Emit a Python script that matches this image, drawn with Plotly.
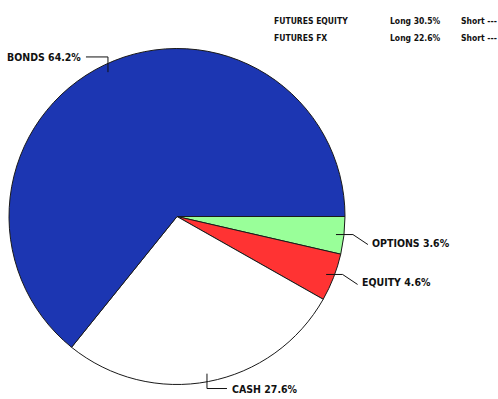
import math
import plotly.graph_objects as go

# Portfolio allocation (percent of total)
labels = ["OPTIONS", "EQUITY", "CASH", "BONDS"]
values = [3.6, 4.6, 27.6, 64.2]
colors = ["#99ff99", "#ff3333", "#ffffff", "#1c36b2"]
# how each callout line leaves its slice
leader_style = ["right", "right", "down", "up"]

# Futures exposure summary
futures_names = ["FUTURES EQUITY", "FUTURES FX"]
futures_long = [30.5, 22.6]
futures_short = ["---", "---"]

W, H = 498, 399
CX, CY, R = 177, 216.5, 168
FONT = "DejaVu Sans Condensed, Roboto, sans-serif"


def px(x):
    return x / W


def py(y):
    return 1 - y / H


fig = go.Figure(
    go.Pie(
        labels=labels,
        values=values,
        sort=False,
        direction="clockwise",
        rotation=90,
        marker=dict(colors=colors, line=dict(color="#1a1a1a", width=1)),
        textinfo="none",
        hoverinfo="label+percent",
        showlegend=False,
        domain=dict(x=[px(CX - R), px(CX + R)], y=[py(CY + R), py(CY - R)]),
    )
)

shapes = []
annotations = []
total = sum(values)
cum = 0.0
for lab, val, style in zip(labels, values, leader_style):
    mid = (cum + val / 2) / total
    cum += val
    th = math.radians(mid * 360)
    c, s = math.cos(th), math.sin(th)
    ex, ey = CX + R * c, CY + R * s
    sx, sy = CX + (R - 8) * c, CY + (R - 8) * s
    text = f"{lab} {val:.1f}%"
    if style == "right":
        p1 = (ex + 9, sy)
        p2 = (p1[0] + 15, p1[1] + 10)
        tx, ty, anchor = p2[0] + 2, p2[1] - 2, "left"
    elif style == "down":
        p1 = (sx, ey + 7)
        p2 = (p1[0] + 20, p1[1])
        tx, ty, anchor = p2[0] + 3, p2[1], "left"
    else:
        p1 = (sx, ey - 8)
        p2 = (p1[0] - 22, p1[1])
        tx, ty, anchor = p2[0] - 3, p2[1], "right"
    path = f"M {px(sx)},{py(sy)} L {px(p1[0])},{py(p1[1])} L {px(p2[0])},{py(p2[1])}"
    shapes.append(dict(type="path", xref="paper", yref="paper", path=path,
                       line=dict(color="#111111", width=1)))
    annotations.append(dict(x=px(tx), y=py(ty), xref="paper", yref="paper",
                            text=text, showarrow=False, xanchor=anchor, yanchor="middle",
                            font=dict(family=FONT, size=10.5, color="#111111", weight="bold")))

# futures table in the top-right corner
row_y = [21, 38]
for name, lng, sht, y in zip(futures_names, futures_long, futures_short, row_y):
    for x, t in [(272, name), (388, f"Long {lng:.1f}%"), (459, f"Short {sht}")]:
        annotations.append(dict(x=px(x), y=py(y), xref="paper", yref="paper",
                                text=t, showarrow=False, xanchor="left", yanchor="middle",
                                font=dict(family=FONT, size=8.5, color="#111111", weight="bold")))

fig.update_layout(
    width=W, height=H,
    margin=dict(l=0, r=0, t=0, b=0),
    paper_bgcolor="white", plot_bgcolor="white",
    shapes=shapes, annotations=annotations,
)

fig.write_html("out.html")
